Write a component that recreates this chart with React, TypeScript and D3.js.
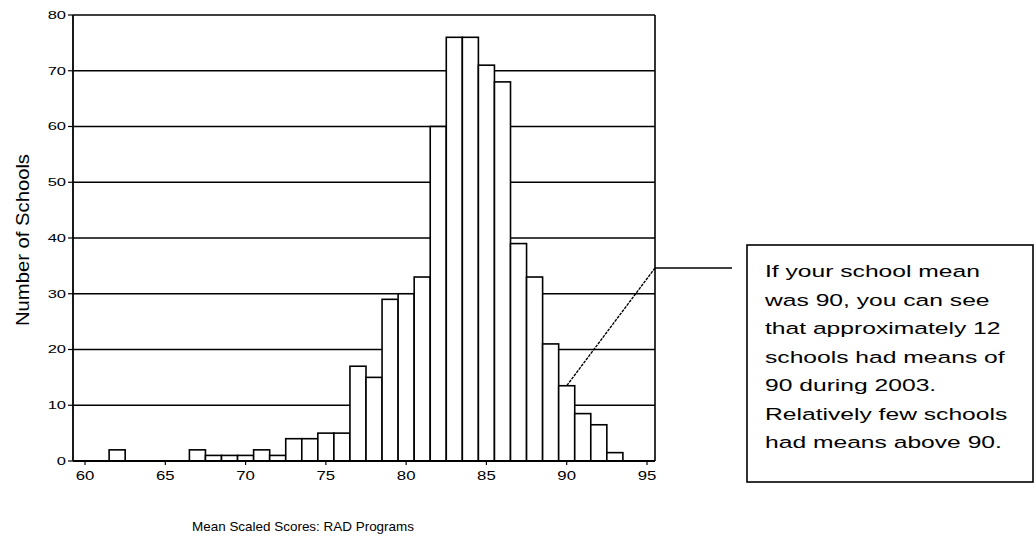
import * as d3 from "d3";

// histogram of school means (score -> number of schools)
const scores = [
  60, 61, 62, 63, 64, 65, 66, 67, 68, 69, 70, 71, 72, 73, 74, 75, 76, 77,
  78, 79, 80, 81, 82, 83, 84, 85, 86, 87, 88, 89, 90, 91, 92, 93, 94,
];
const schoolCounts = [
  0, 0, 2, 0, 0, 0, 0, 2, 1, 1, 1, 2, 1, 4, 4, 5, 5, 17,
  15, 29, 30, 33, 60, 76, 76, 71, 68, 39, 33, 21, 13.5, 8.5, 6.5, 1.5, 0,
];
const yTicks = [0, 10, 20, 30, 40, 50, 60, 70, 80];
const xTicks = [60, 65, 70, 75, 80, 85, 90, 95];
const noteLines = [
  "If your school mean",
  "was 90, you can see",
  "that approximately 12",
  "schools had means of",
  "90 during 2003.",
  "Relatively few schools",
  "had means above 90.",
];
const noteScore = 90;

const W = 1036;
const H = 542;
const font = "'Liberation Sans', Arial, sans-serif";

export default function App() {
  const x = d3.scaleLinear().domain([59.25, 95.5]).range([73, 655]);
  const y = d3.scaleLinear().domain([0, 80]).range([461, 15]);
  const bw = x(1) - x(0);

  const bars = scores
    .map((s, i) => ({ s, v: schoolCounts[i] }))
    .filter((d) => d.v > 0);

  const left = x.range()[0];
  const right = x.range()[1];
  const noteIdx = scores.indexOf(noteScore);
  const anchorY = 268;

  return (
    <svg
      width={W}
      height={H}
      style={{ position: "absolute", left: 0, top: 0, background: "#fff" }}
      fontFamily={font}
    >
      {/* grid */}
      {yTicks.map((t) => (
        <line
          key={"g" + t}
          x1={left}
          x2={right}
          y1={y(t)}
          y2={y(t)}
          stroke="#000"
          strokeWidth={1.6}
        />
      ))}
      <line x1={right} x2={right} y1={y(80)} y2={y(0)} stroke="#000" strokeWidth={1.6} />

      {/* bars */}
      {bars.map((d) => (
        <rect
          key={d.s}
          x={x(d.s) - bw / 2}
          y={y(d.v)}
          width={bw}
          height={y(0) - y(d.v)}
          fill="#fff"
          stroke="#000"
          strokeWidth={1.6}
        />
      ))}

      {/* axes */}
      <line x1={left} x2={left} y1={y(80)} y2={y(0)} stroke="#000" strokeWidth={1.8} />
      <line x1={left} x2={right} y1={y(0)} y2={y(0)} stroke="#000" strokeWidth={1.8} />
      {yTicks.map((t) => (
        <g key={"y" + t}>
          <line x1={left - 5} x2={left} y1={y(t)} y2={y(t)} stroke="#000" strokeWidth={1.2} />
          <text
            transform={`translate(${left - 7},${y(t)}) scale(1.5,1)`}
            dy="0.35em"
            textAnchor="end"
            fontSize={11}
          >
            {t}
          </text>
        </g>
      ))}
      {xTicks.map((t) => (
        <g key={"x" + t}>
          <line x1={x(t)} x2={x(t)} y1={y(0)} y2={y(0) + 4} stroke="#000" strokeWidth={1.2} />
          <text
            transform={`translate(${x(t)},480) scale(1.4,1)`}
            textAnchor="middle"
            fontSize={12}
          >
            {t}
          </text>
        </g>
      ))}

      <text
        x={303}
        y={531}
        textAnchor="middle"
        fontSize={13}
        textLength={222}
        lengthAdjust="spacingAndGlyphs"
      >
        Mean Scaled Scores: RAD Programs
      </text>
      <text
        transform="translate(29,240) scale(1.3,1) rotate(-90)"
        textAnchor="middle"
        fontSize={14}
        textLength={172}
        lengthAdjust="spacingAndGlyphs"
      >
        Number of Schools
      </text>

      {/* annotation */}
      <line x1={right} x2={732} y1={anchorY} y2={anchorY} stroke="#000" strokeWidth={1.3} />
      <line
        x1={right}
        y1={anchorY}
        x2={x(noteScore)}
        y2={y(schoolCounts[noteIdx])}
        stroke="#000"
        strokeWidth={1.4}
        strokeDasharray="3,1"
      />
      <rect x={747} y={245} width={286} height={237} fill="#fff" stroke="#000" strokeWidth={1.6} />
      {noteLines.map((l, i) => (
        <text
          key={i}
          transform={`translate(765,${277 + i * 28.5}) scale(1.45,1)`}
          fontSize={17}
        >
          {l}
        </text>
      ))}
    </svg>
  );
}
